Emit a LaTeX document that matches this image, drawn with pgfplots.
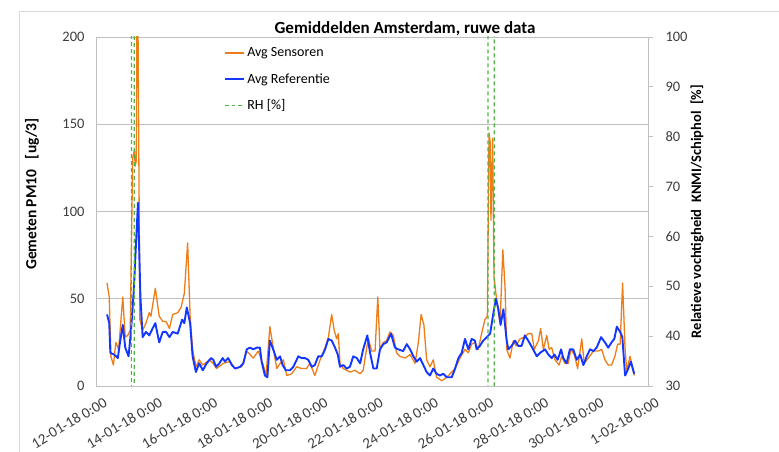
\documentclass[border=0pt]{standalone}
\usepackage{fontspec}
\setmainfont{Carlito}
\usepackage{pgfplots}
\pgfplotsset{compat=1.18}
\definecolor{sensor}{RGB}{237,125,25}
\definecolor{refblue}{RGB}{20,55,255}
\definecolor{rhgreen}{RGB}{80,180,70}
\definecolor{gridc}{RGB}{191,191,191}
\definecolor{tickc}{RGB}{60,60,60}
\begin{document}
\begin{tikzpicture}[x=1pt,y=1pt]
\useasboundingbox (0,0) rectangle (779,452);
\draw[color={rgb,255:red,217;green,217;blue,217}, line width=0.8pt] (19,0) -- (19,441) -- (779,441);
\begin{axis}[
  at={(96pt,66pt)}, anchor=south west, scale only axis,
  width=552pt, height=349pt,
  xmin=12, xmax=32, ymin=0, ymax=200,
  xtick={12,14,...,32},
  xticklabels={{12-01-18 0:00},{14-01-18 0:00},{16-01-18 0:00},{18-01-18 0:00},{20-01-18 0:00},{22-01-18 0:00},{24-01-18 0:00},{26-01-18 0:00},{28-01-18 0:00},{30-01-18 0:00},{1-02-18 0:00}},
  ytick={0,50,...,200},
  ymajorgrids, grid style={gridc, line width=0.8pt},
  axis line style={gridc, line width=0.8pt},
  major tick length=0pt,
  /pgf/number format/assume math mode=true,
  tick label style={font=\fontsize{14.5}{16}\selectfont, text=tickc},
  xticklabel style={rotate=31, anchor=north east, xshift=4pt, yshift=-9pt, font=\fontsize{15}{16}\selectfont},
  yticklabel style={xshift=-8pt},
  every axis y label/.style={at={(axis description cs:-0.116,0.55)}, anchor=center, rotate=90},
  ylabel={Gemeten PM10\ \ \ [ug/3]},
  label style={font=\bfseries\fontsize{15.5}{17}\selectfont},
  every axis title/.style={at={(axis description cs:0.56,1)}, anchor=base, yshift=3pt},
  title={Gemiddelden Amsterdam, ruwe data},
  title style={font=\bfseries\fontsize{17}{19}\selectfont},
]
\addplot[color=sensor, line width=1.3pt, line join=round] coordinates {
(12.40,59)(12.48,51)(12.54,17)(12.63,12)(12.72,25)(12.82,21)(12.97,51)(13.06,28)(13.15,29)(13.24,32)
(13.33,131)(13.39,135)(13.42,126)(13.46,129)(13.50,260)(13.59,38)(13.69,32)(13.81,36)(13.93,42)(13.99,40)
(14.15,56)(14.29,40)(14.42,37)(14.54,37)(14.66,33)(14.78,41)(14.96,42)(15.08,45)(15.20,53)(15.32,82)
(15.41,40)(15.50,21)(15.62,11)(15.74,15)(15.87,12)(16.11,15)(16.24,13)(16.37,10)(16.61,13)(16.86,14)
(17.04,10)(17.28,11)(17.46,20)(17.70,16)(17.88,20)(18.06,12)(18.16,6)(18.30,34)(18.42,22)(18.55,10)
(18.67,13)(18.79,15)(18.91,6)(19.09,7)(19.27,11)(19.45,10)(19.63,10)(19.75,13)(19.93,6)(20.12,15)
(20.30,22)(20.42,28)(20.54,41)(20.63,32)(20.72,27)(20.78,30)(20.84,13)(20.96,10)(21.08,9)(21.20,8)
(21.38,9)(21.57,7)(21.68,9)(21.81,22)(21.87,27)(21.99,20)(22.11,20)(22.21,51)(22.29,21)(22.41,25)
(22.53,26)(22.65,31)(22.77,29)(22.89,19)(23.01,17)(23.20,16)(23.38,18)(23.56,13)(23.68,25)(23.78,41)
(23.88,35)(23.98,15)(24.10,11)(24.22,15)(24.34,5)(24.53,3)(24.71,5)(25.01,10)(25.19,16)(25.37,21)
(25.49,19)(25.61,24)(25.73,25)(25.85,21)(25.97,30)(26.09,38)(26.18,40)(26.24,145)(26.28,140)(26.31,95)
(26.37,142)(26.42,63)(26.46,57)(26.54,46)(26.64,36)(26.74,78)(26.82,57)(26.88,21)(27.00,16)(27.12,26)
(27.22,23)(27.36,27)(27.54,28)(27.66,30)(27.79,30)(27.88,21)(28.03,26)(28.11,33)(28.21,21)(28.33,29)
(28.42,21)(28.51,22)(28.63,15)(28.78,12)(28.87,17)(28.99,13)(29.11,13)(29.21,21)(29.33,18)(29.45,10)
(29.60,27)(29.69,13)(29.84,16)(30.02,20)(30.20,20)(30.32,21)(30.44,15)(30.56,12)(30.68,12)(30.80,17)
(30.90,24)(30.99,24)(31.08,59)(31.17,21)(31.23,9)(31.35,17)(31.43,11)(31.50,6)
};
\addplot[color=refblue, line width=1.9pt, line join=round] coordinates {
(12.40,41)(12.48,36)(12.52,19)(12.66,18)(12.79,16)(12.87,25)(12.97,35)(13.06,22)(13.18,17)(13.27,32)
(13.37,55)(13.43,75)(13.52,105)(13.61,51)(13.69,28)(13.81,31)(13.93,29)(14.05,33)(14.15,36)(14.29,25)
(14.42,31)(14.54,31)(14.66,28)(14.78,31)(14.96,30)(15.12,38)(15.20,36)(15.29,45)(15.41,36)(15.50,17)
(15.62,8)(15.74,13)(15.87,9)(16.01,13)(16.17,16)(16.25,15)(16.35,11)(16.47,13)(16.59,16)(16.67,14)
(16.79,16)(16.92,12)(17.04,10)(17.22,11)(17.34,13)(17.46,21)(17.58,22)(17.70,21)(17.82,22)(17.94,22)
(18.00,14)(18.12,6)(18.21,5)(18.30,26)(18.42,21)(18.55,15)(18.67,17)(18.76,12)(18.88,9)(19.03,9)
(19.15,11)(19.33,17)(19.45,16)(19.57,16)(19.69,15)(19.82,11)(19.93,12)(20.05,17)(20.18,17)(20.30,21)
(20.42,27)(20.54,26)(20.66,22)(20.76,18)(20.84,11)(20.96,12)(21.08,10)(21.20,11)(21.32,17)(21.45,16)
(21.57,13)(21.68,21)(21.83,29)(21.93,19)(22.05,10)(22.17,10)(22.29,21)(22.41,24)(22.53,25)(22.69,30)
(22.83,22)(22.95,21)(23.13,20)(23.26,24)(23.38,21)(23.50,17)(23.62,14)(23.74,16)(23.86,12)(23.98,8)
(24.10,6)(24.22,10)(24.34,7)(24.46,6)(24.58,7)(24.71,5)(24.89,5)(25.01,10)(25.13,16)(25.25,19)
(25.37,27)(25.49,21)(25.61,27)(25.73,26)(25.79,21)(25.91,23)(26.03,26)(26.16,28)(26.28,30)(26.40,42)
(26.49,50)(26.58,44)(26.66,35)(26.76,44)(26.88,26)(26.94,21)(27.06,23)(27.18,26)(27.30,23)(27.42,23)
(27.54,29)(27.66,26)(27.84,21)(27.97,17)(28.09,19)(28.27,21)(28.39,18)(28.51,16)(28.61,18)(28.73,15)
(28.85,21)(28.93,16)(29.05,13)(29.17,21)(29.29,21)(29.42,15)(29.54,18)(29.66,12)(29.78,17)(29.90,21)
(30.02,20)(30.14,22)(30.30,28)(30.44,25)(30.56,22)(30.68,25)(30.78,27)(30.87,34)(30.99,31)(31.07,28)
(31.17,6)(31.26,9)(31.38,14)(31.50,7)
};
\end{axis}
\begin{axis}[
  at={(96pt,66pt)}, anchor=south west, scale only axis,
  width=552pt, height=349pt,
  xmin=12, xmax=32, ymin=30, ymax=100,
  axis x line=none,
  axis y line*=right,
  ytick={30,40,...,100},
  axis line style={gridc, line width=0.8pt},
  tick style={gridc, line width=0.8pt},
  tick align=outside, major tick length=5pt,
  /pgf/number format/assume math mode=true,
  tick label style={font=\fontsize{14.5}{16}\selectfont, text=tickc},
  yticklabel style={xshift=9pt},
  every axis y label/.style={at={(axis description cs:1.089,0.5)}, anchor=center, rotate=90},
  ylabel={Relatieve vochtigheid\ \ KNMI/Schiphol\ \ [\%]},
  label style={font=\bfseries\fontsize{14.5}{16}\selectfont},
  legend style={at={(axis description cs:0.232,0.975)}, anchor=north west, draw=none, fill=none,
    font=\fontsize{14}{16}\selectfont, row sep=11pt, inner sep=0pt},
  legend cell align=left,
  legend image code/.code={\draw[#1] (0pt,0pt) -- (19pt,0pt);},
]
\addlegendimage{color=sensor, line width=2pt}
\addlegendentry{Avg Sensoren}
\addlegendimage{color=refblue, line width=2pt}
\addlegendentry{Avg Referentie}
\addlegendimage{color=rhgreen, line width=1.6pt, dash pattern=on 3.5pt off 3pt}
\addlegendentry{RH [\%]}
\addplot[color=rhgreen, line width=1.2pt, dash pattern=on 4pt off 3pt, forget plot] coordinates {
(12.40,-50)(13.28,-50)(13.285,200)(13.385,200)(13.39,-50)(26.20,-50)(26.205,200)(26.425,200)(26.43,-50)(31.50,-50)
};
\end{axis}
\end{tikzpicture}
\end{document}
